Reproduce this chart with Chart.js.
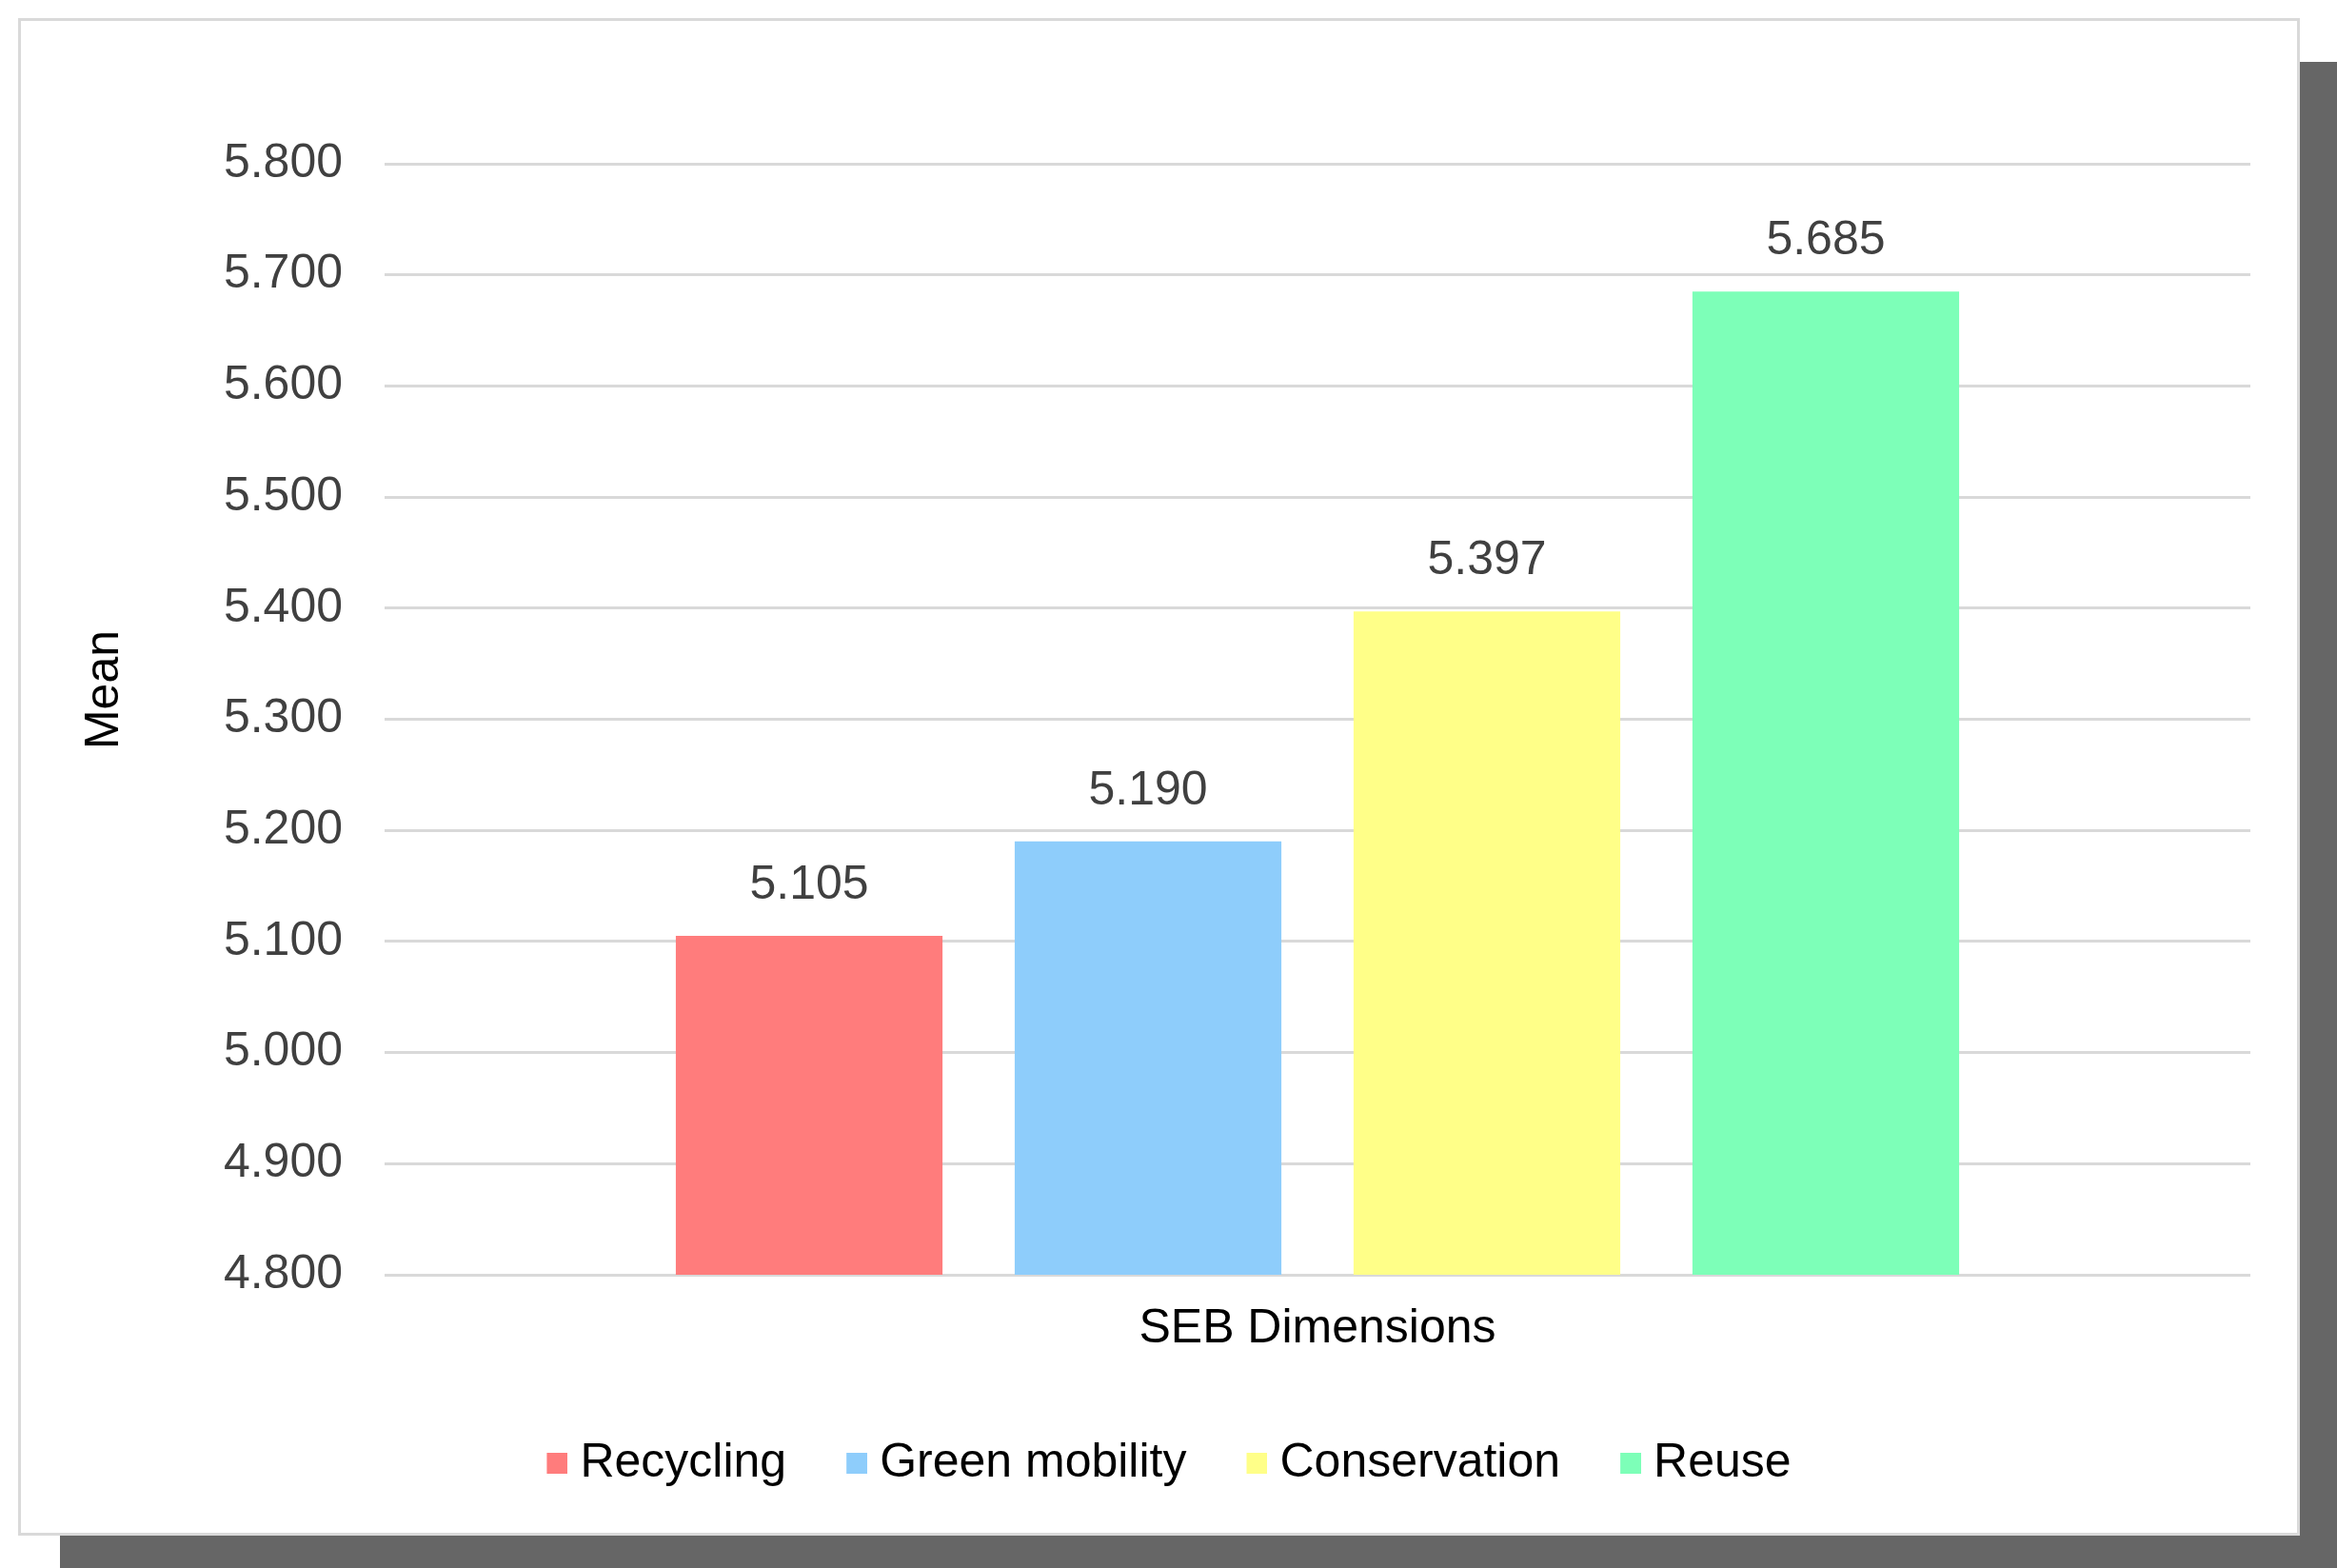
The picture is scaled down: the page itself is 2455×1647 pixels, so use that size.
<!DOCTYPE html>
<html>
<head>
<meta charset="utf-8">
<script src="https://cdn.jsdelivr.net/npm/chart.js@4/dist/chart.umd.min.js"></script>
<style>
  body { margin: 0; width: 2455px; height: 1647px; overflow: hidden; background: #fff; }
  #card {
    position: absolute; left: 19px; top: 19px; width: 2391px; height: 1588px;
    border: 3px solid #d9d9d9; background: #fff;
    box-shadow: 44px 46px 0 #666;
  }
  #wrap { position: absolute; left: 0; top: 0; width: 2455px; height: 1647px; }
</style>
</head>
<body>
<div id="card"></div>
<div id="wrap"><canvas id="chart"></canvas></div>
<script>
// data
const categories = ['SEB Dimensions'];
const seriesNames = ['Recycling', 'Green mobility', 'Conservation', 'Reuse'];
const seriesValues = [5.105, 5.190, 5.397, 5.685];
const seriesColors = ['#ff7c7c', '#8ecdfb', '#ffff88', '#7dffb8'];
const yMin = 4.8, yMax = 5.8, yStep = 0.1;
const yTitle = 'Mean';

const FONT = 'Liberation Sans, Arial, sans-serif';
const FS = 50;

// legend marker: small square sitting close to its text
function makeMark(color) {
  const c = document.createElement('canvas');
  c.width = 46; c.height = 22;
  const g = c.getContext('2d');
  g.fillStyle = color;
  g.fillRect(24, 0, 22, 22);
  return c;
}
const legendMarks = seriesColors.map(makeMark);

// value labels above bars + axis title a bit above the middle, like Excel does
const extras = {
  id: 'extras',
  afterLayout(chart) {
    // nudge the legend so it sits centred on the card
    chart.legend.left += 10;
    chart.legend.right += 10;
  },
  afterDatasetsDraw(chart) {
    const ctx = chart.ctx;
    const area = chart.chartArea;
    ctx.save();
    ctx.font = FS + 'px ' + FONT;
    ctx.textAlign = 'center';
    ctx.textBaseline = 'middle';
    ctx.fillStyle = '#404040';
    chart.data.datasets.forEach((ds, i) => {
      chart.getDatasetMeta(i).data.forEach((bar, j) => {
        ctx.fillText(ds.data[j].toFixed(3), bar.x, bar.y - 53);
      });
    });
    // y axis title
    ctx.fillStyle = '#000';
    ctx.translate(chart.scales.y.left + 50, (area.top + area.bottom) / 2 - 31);
    ctx.rotate(-Math.PI / 2);
    ctx.fillText(yTitle, 0, 0);
    ctx.restore();
  }
};

const datasets = seriesNames.map((name, i) => ({
  label: name,
  data: [seriesValues[i]],
  backgroundColor: seriesColors[i],
  borderWidth: 0,
  categoryPercentage: 0.7265,
  barPercentage: 0.787
}));

new Chart(document.getElementById('chart'), {
  type: 'bar',
  data: { labels: categories, datasets: datasets },
  plugins: [extras],
  options: {
    responsive: true,
    maintainAspectRatio: false,
    animation: false,
    layout: { padding: { left: 60, right: 91, top: 172, bottom: 75 } },
    plugins: {
      tooltip: { enabled: false },
      legend: {
        position: 'bottom',
        labels: {
          usePointStyle: true,
          boxWidth: 22, boxHeight: 22, padding: 51,
          color: '#000', font: { size: FS, family: FONT },
          generateLabels(chart) {
            const items = Chart.defaults.plugins.legend.labels.generateLabels(chart);
            items.forEach((it, i) => { it.pointStyle = legendMarks[i]; });
            return items;
          }
        }
      }
    },
    scales: {
      x: {
        grid: { display: false },
        border: { display: false },
        ticks: { color: '#000', padding: 19, font: { size: FS, family: FONT } },
        afterFit(scale) { scale.height = 122; }
      },
      y: {
        min: yMin, max: yMax,
        grid: { color: '#d9d9d9', lineWidth: 3, drawTicks: false },
        border: { display: false },
        ticks: {
          stepSize: yStep, padding: 44, color: '#404040',
          font: { size: FS, family: FONT },
          callback: v => Number(v).toFixed(3)
        },
        afterFit(scale) { scale.width = 344; }
      }
    }
  }
});
</script>
</body>
</html>
